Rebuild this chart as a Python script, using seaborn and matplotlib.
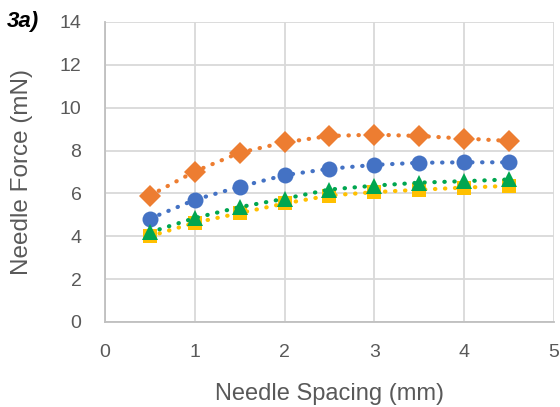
import matplotlib
matplotlib.use("Agg")
import matplotlib.pyplot as plt
import seaborn as sns
import pandas as pd

spacing = [0.5, 1.0, 1.5, 2.0, 2.5, 3.0, 3.5, 4.0, 4.5]
orange_vals = [5.90, 7.02, 7.90, 8.38, 8.68, 8.74, 8.68, 8.56, 8.45]
blue_vals = [4.82, 5.70, 6.31, 6.85, 7.15, 7.33, 7.43, 7.45, 7.45]
yellow_vals = [4.00, 4.63, 5.08, 5.53, 5.90, 6.06, 6.17, 6.27, 6.35]
green_vals = [4.18, 4.85, 5.36, 5.75, 6.18, 6.36, 6.50, 6.57, 6.65]

x_ticks = [0, 1, 2, 3, 4, 5]
y_ticks = [0, 2, 4, 6, 8, 10, 12, 14]

sns.set_theme(style="white")
plt.rcParams['font.family'] = ['Liberation Sans', 'DejaVu Sans']

fig = plt.figure(figsize=(5.6, 4.07), dpi=100)
ax = fig.add_axes([0.1875, 0.209, 0.8015, 0.737])

series = [
    (orange_vals, "#ED7D31", "D", 11.5),
    (blue_vals, "#4472C4", "o", 11.5),
    (yellow_vals, "#FFC000", "s", 10),
    (green_vals, "#00A650", "^", 11.5),
]
for vals, col, mk, ms in series:
    df = pd.DataFrame({"x": spacing, "y": vals})
    sns.lineplot(data=df, x="x", y="y", ax=ax, color=col, marker=mk,
                 markersize=ms, markeredgewidth=0, linestyle=(0, (0.1, 2.3)),
                 linewidth=3.0, dash_capstyle="round", solid_capstyle="round")

ax.set_xlim(0, 5)
ax.set_ylim(0, 14)
ax.set_xticks(x_ticks)
ax.set_yticks(y_ticks)
ax.grid(True, color="#d9d9d9", linewidth=1.3)
ax.set_axisbelow(True)
for s in ["top", "right"]:
    ax.spines[s].set_visible(False)
for s in ["left", "bottom"]:
    ax.spines[s].set_color("#bfbfbf")
    ax.spines[s].set_linewidth(1.3)
ax.tick_params(axis="y", length=0, labelsize=14, colors="#595959", pad=17)
ax.tick_params(axis="x", length=0, labelsize=14, colors="#595959", pad=16)
ax.set_xlabel("Needle Spacing (mm)", fontsize=17, color="#595959", va="baseline")
ax.xaxis.set_label_coords(0.5, -0.26)
ax.set_ylabel("Needle Force (mN)", fontsize=17.5, color="#595959", va="center")
ax.yaxis.set_label_coords(-0.186, 0.5)
fig.text(0.0125, 0.948, "3a)", fontsize=16, fontweight="bold", fontstyle="italic",
         color="#000000", ha="left", va="center")

fig.savefig("out.png", dpi=100)
